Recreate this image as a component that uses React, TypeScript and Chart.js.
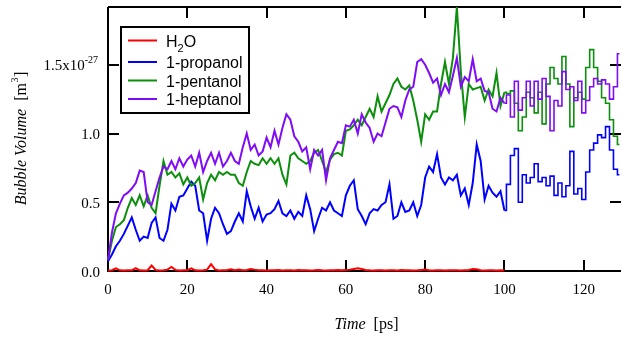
import React, { useEffect, useRef } from "react";
import { Chart, registerables } from "chart.js";

Chart.register(...registerables);

// ---- data (Bubble volume in units of 1e-27 m^3) ----
// early part: one sample per ps, t = 0 .. 100
const EARLY_START = 0;
// late part (coarser, stepped output): one sample per ps, t = 100 .. 129
const LATE_START = 100;

const H2O = [
  0.004, 0.006, 0.02, 0.005, 0.004, 0.006, 0.005, 0.02, 0.005, 0.004,
  0.006, 0.04, 0.008, 0.004, 0.005, 0.01, 0.03, 0.008, 0.004, 0.005,
  0.006, 0.02, 0.005, 0.004, 0.006, 0.01, 0.05, 0.012, 0.004, 0.006,
  0.008, 0.012, 0.005, 0.01, 0.006, 0.008, 0.015, 0.01, 0.006, 0.005,
  0.004, 0.006, 0.005, 0.008, 0.004, 0.006, 0.005, 0.004, 0.007, 0.005,
  0.006, 0.004, 0.005, 0.008, 0.005, 0.004, 0.006, 0.005, 0.007, 0.005,
  0.008, 0.01, 0.015, 0.02, 0.015, 0.008, 0.005, 0.004, 0.006, 0.005,
  0.004, 0.006, 0.005, 0.004, 0.007, 0.005, 0.006, 0.004, 0.005, 0.008,
  0.01, 0.006, 0.004, 0.005, 0.006, 0.004, 0.005, 0.006, 0.005, 0.004,
  0.006, 0.008, 0.015, 0.012, 0.005, 0.004, 0.006, 0.005, 0.004, 0.005,
  0.003,
];

const PROPANOL = [
  0.07, 0.12, 0.18, 0.22, 0.27, 0.33, 0.39, 0.30, 0.22, 0.25,
  0.24, 0.35, 0.39, 0.24, 0.22, 0.30, 0.49, 0.44, 0.54, 0.55,
  0.60, 0.65, 0.62, 0.44, 0.42, 0.22, 0.38, 0.46, 0.42, 0.34,
  0.27, 0.29, 0.36, 0.42, 0.36, 0.58, 0.47, 0.38, 0.46, 0.36,
  0.41, 0.42, 0.45, 0.51, 0.42, 0.40, 0.44, 0.38, 0.43, 0.40,
  0.55, 0.45, 0.29, 0.38, 0.46, 0.44, 0.50, 0.44, 0.42, 0.40,
  0.55, 0.62, 0.66, 0.45, 0.40, 0.34, 0.42, 0.45, 0.44, 0.48,
  0.50, 0.63, 0.38, 0.40, 0.50, 0.43, 0.44, 0.50, 0.40, 0.48,
  0.68, 0.76, 0.72, 0.85, 0.68, 0.63, 0.68, 0.66, 0.70, 0.55,
  0.60, 0.48, 0.64, 0.92, 0.80, 0.52, 0.62, 0.57, 0.54, 0.58,
  0.44,
];

const PENTANOL = [
  0.08, 0.22, 0.32, 0.34, 0.37, 0.46, 0.53, 0.48, 0.55, 0.47,
  0.55, 0.46, 0.42, 0.62, 0.80, 0.70, 0.72, 0.68, 0.71, 0.63,
  0.68, 0.62, 0.64, 0.68, 0.52, 0.64, 0.70, 0.66, 0.72, 0.70,
  0.72, 0.70, 0.70, 0.64, 0.62, 0.72, 0.80, 0.78, 0.77, 0.82,
  0.78, 0.82, 0.78, 0.82, 0.70, 0.63, 0.84, 0.86, 0.82, 0.80,
  0.78, 0.80, 0.86, 0.88, 0.80, 0.72, 0.81, 0.85, 0.86, 0.84,
  1.02, 1.03, 1.06, 1.10, 1.06, 1.12, 1.18, 1.12, 1.27, 1.16,
  1.22, 1.28, 1.36, 1.40, 1.34, 1.32, 1.35, 1.24, 1.10, 0.94,
  1.14, 1.10, 1.16, 1.16, 1.36, 1.52, 1.36, 1.55, 1.92, 1.45,
  1.12, 1.36, 1.32, 1.33, 1.34, 1.24, 1.32, 1.27, 1.44, 1.20,
  1.30,
];

const HEPTANOL = [
  0.08, 0.28, 0.42, 0.49, 0.55, 0.57, 0.60, 0.64, 0.73, 0.72,
  0.50, 0.48, 0.58, 0.68, 0.76, 0.74, 0.80, 0.74, 0.82, 0.76,
  0.81, 0.84, 0.76, 0.86, 0.72, 0.80, 0.86, 0.78, 0.86, 0.76,
  0.80, 0.86, 0.80, 0.78, 0.90, 1.00, 0.88, 0.92, 0.84, 0.87,
  0.97, 0.90, 1.02, 0.92, 1.04, 1.14, 1.10, 0.98, 0.94, 0.87,
  0.90, 0.74, 0.88, 0.84, 0.88, 0.66, 0.82, 0.88, 0.94, 0.93,
  1.06, 1.05, 1.10, 1.00, 1.14, 1.08, 1.04, 0.94, 1.00, 0.98,
  1.08, 1.18, 1.20, 1.19, 1.12, 1.24, 1.32, 1.34, 1.52, 1.54,
  1.50, 1.44, 1.37, 1.40, 1.28, 1.36, 1.30, 1.42, 1.55, 1.34,
  1.41, 1.38, 1.54, 1.38, 1.40, 1.31, 1.30, 1.18, 1.16, 1.26,
  1.22,
];

const PROPANOL_LATE = [
  0.44, 0.63, 0.84, 0.89, 0.50, 0.70, 0.64, 0.68, 0.78, 0.65,
  0.68, 0.62, 0.69, 0.55, 0.64, 0.54, 0.62, 0.87, 0.56, 0.60,
  0.52, 0.72, 0.88, 0.93, 0.99, 0.97, 1.05, 0.88, 0.74, 0.70,
];

const PENTANOL_LATE = [
  1.30, 1.29, 1.31, 1.22, 1.02, 1.12, 1.30, 1.26, 1.15, 1.30,
  1.07, 1.36, 1.48, 1.40, 1.36, 1.56, 1.36, 1.05, 1.26, 1.30,
  1.25, 1.48, 1.61, 1.48, 1.38, 1.26, 1.22, 1.10, 0.98, 0.92,
];

const HEPTANOL_LATE = [
  1.22, 1.28, 1.12, 1.38, 1.17, 1.26, 1.38, 1.20, 1.38, 1.25,
  1.40, 1.27, 1.02, 1.24, 1.20, 1.45, 1.32, 1.34, 1.24, 1.38,
  1.15, 1.24, 1.34, 1.40, 1.36, 1.39, 1.36, 1.25, 1.34, 1.58,
];

const SERIES_NAMES = ["H2O", "1-propanol", "1-pentanol", "1-heptanol"];
const SERIES_COLORS = ["#ff0000", "#0000ff", "#0c8f0c", "#7f0cf5"];

const X_TICKS = [0, 20, 40, 60, 80, 100, 120];
const X_TICK_LABELS = ["0", "20", "40", "60", "80", "100", "120"];
const Y_TICKS = [0, 0.5, 1.0, 1.5];
const Y_TICK_LABELS = ["0.0", "0.5", "1.0", "1.5x10"];
const Y_EXPONENT = "-27";
const X_MIN = 0;
const X_MAX = 129.4;
const Y_MIN = 0;
const Y_MAX = 1.92;

const SERIF = "'Liberation Serif', 'Times New Roman', serif";
const SANS = "'Liberation Sans', Arial, sans-serif";

function toPoints(values: number[], start: number) {
  return values.map((v, i) => ({ x: start + i, y: v }));
}

const framePlugin = {
  id: "igorFrame",
  beforeDatasetsDraw(chart: any) {
    const { ctx, chartArea: a, scales } = chart;
    const x = scales.x;
    const y = scales.y;
    ctx.save();
    ctx.strokeStyle = "#000";
    ctx.lineWidth = 2;
    ctx.beginPath();
    ctx.moveTo(a.left, a.top);
    ctx.lineTo(a.right, a.top);
    ctx.moveTo(a.left, a.top);
    ctx.lineTo(a.left, a.bottom);
    ctx.lineTo(a.right, a.bottom);
    ctx.stroke();
    const TL = 11;
    ctx.beginPath();
    X_TICKS.forEach((v) => {
      const px = Math.round(x.getPixelForValue(v));
      if (px <= a.left + 1) return;
      ctx.moveTo(px, a.bottom);
      ctx.lineTo(px, a.bottom - TL);
      ctx.moveTo(px, a.top);
      ctx.lineTo(px, a.top + TL);
    });
    Y_TICKS.forEach((v) => {
      const py = Math.round(y.getPixelForValue(v));
      if (py >= a.bottom - 1) return;
      ctx.moveTo(a.left, py);
      ctx.lineTo(a.left + TL, py);
      ctx.moveTo(a.right, py);
      ctx.lineTo(a.right - TL, py);
    });
    ctx.stroke();
    ctx.restore();
  },
  afterDraw(chart: any) {
    const { ctx, chartArea: a, scales } = chart;
    const x = scales.x;
    const y = scales.y;
    ctx.save();
    ctx.fillStyle = "#000";
    ctx.textBaseline = "alphabetic";

    // x tick labels
    ctx.font = `15px ${SERIF}`;
    ctx.textAlign = "center";
    X_TICKS.forEach((v, i) => {
      ctx.fillText(X_TICK_LABELS[i], x.getPixelForValue(v), a.bottom + 23);
    });

    // y tick labels
    const labelRight = a.left - 8;
    Y_TICKS.forEach((v, i) => {
      const py = y.getPixelForValue(v);
      const text = Y_TICK_LABELS[i];
      if (i === Y_TICKS.length - 1) {
        ctx.font = `10px ${SERIF}`;
        const ew = ctx.measureText(Y_EXPONENT).width;
        ctx.textAlign = "left";
        const expLeft = labelRight - 2 - ew;
        ctx.fillText(Y_EXPONENT, expLeft, py - 2);
        ctx.font = `15px ${SERIF}`;
        ctx.textAlign = "right";
        ctx.fillText(text, expLeft, py + 5.5);
      } else {
        ctx.font = `15px ${SERIF}`;
        ctx.textAlign = "right";
        ctx.fillText(text, labelRight, py + 5.5);
      }
    });

    // x title
    ctx.textAlign = "left";
    const xt1 = "Time";
    const xt2 = "  [ps]";
    ctx.font = `italic 16px ${SERIF}`;
    const w1 = ctx.measureText(xt1).width;
    ctx.font = `16px ${SERIF}`;
    const w2 = ctx.measureText(xt2).width;
    const cx = (a.left + a.right) / 2 + 2;
    let sx = cx - (w1 + w2) / 2;
    ctx.font = `italic 16px ${SERIF}`;
    ctx.fillText(xt1, sx, 329);
    ctx.font = `16px ${SERIF}`;
    ctx.fillText(xt2, sx + w1, 329);

    // y title (rotated)
    ctx.save();
    ctx.translate(25.5, (a.top + a.bottom) / 2 + 0);
    ctx.rotate(-Math.PI / 2);
    const p1 = "Bubble Volume";
    const p2 = "  [m";
    const p3 = "3";
    const p4 = "]";
    ctx.font = `italic 16px ${SERIF}`;
    const q1 = ctx.measureText(p1).width;
    ctx.font = `16px ${SERIF}`;
    const q2 = ctx.measureText(p2).width;
    const q4 = ctx.measureText(p4).width;
    ctx.font = `10px ${SERIF}`;
    const q3 = ctx.measureText(p3).width;
    let tx = -(q1 + q2 + q3 + q4) / 2;
    ctx.font = `italic 16px ${SERIF}`;
    ctx.fillText(p1, tx, 0);
    tx += q1;
    ctx.font = `16px ${SERIF}`;
    ctx.fillText(p2, tx, 0);
    tx += q2;
    ctx.font = `10px ${SERIF}`;
    ctx.fillText(p3, tx + 0.5, -8);
    tx += q3 + 1;
    ctx.font = `16px ${SERIF}`;
    ctx.fillText(p4, tx, 0);
    ctx.restore();

    // legend
    const bx = 121, by = 27, bw = 128, bh = 86;
    ctx.fillStyle = "#fff";
    ctx.fillRect(bx, by, bw, bh);
    ctx.strokeStyle = "#000";
    ctx.lineWidth = 2;
    ctx.strokeRect(bx, by, bw, bh);
    const rowsY = [40.5, 62, 80.5, 99];
    SERIES_NAMES.forEach((name, i) => {
      const ly = rowsY[i];
      ctx.strokeStyle = SERIES_COLORS[i];
      ctx.lineWidth = 2;
      ctx.beginPath();
      ctx.moveTo(128, ly);
      ctx.lineTo(157, ly);
      ctx.stroke();
      ctx.fillStyle = "#000";
      ctx.textAlign = "left";
      if (name === "H2O") {
        ctx.font = `16px ${SANS}`;
        ctx.fillText("H", 166, ly + 6);
        const hw = ctx.measureText("H").width;
        ctx.font = `11px ${SANS}`;
        ctx.fillText("2", 166 + hw, ly + 11);
        const sw = ctx.measureText("2").width;
        ctx.font = `16px ${SANS}`;
        ctx.fillText("O", 166 + hw + sw, ly + 6);
      } else {
        ctx.font = `16px ${SANS}`;
        ctx.fillText(name, 166, ly + 6);
      }
    });
    ctx.restore();
  },
};

export default function App() {
  const canvasRef = useRef<HTMLCanvasElement | null>(null);

  useEffect(() => {
    const canvas = canvasRef.current;
    if (!canvas) return;
    const early = [H2O, PROPANOL, PENTANOL, HEPTANOL];
    const late = [null, PROPANOL_LATE, PENTANOL_LATE, HEPTANOL_LATE];
    const orders = [3, 2, 1, 0];
    const datasets: any[] = [];
    early.forEach((vals, i) => {
      datasets.push({
        label: SERIES_NAMES[i],
        data: toPoints(vals, EARLY_START),
        borderColor: SERIES_COLORS[i],
        borderWidth: 2,
        pointRadius: 0,
        tension: 0,
        fill: false,
        clip: 3,
        order: orders[i],
      });
      const lv = late[i];
      if (lv) {
        datasets.push({
          label: SERIES_NAMES[i] + " (late)",
          data: toPoints(lv, LATE_START),
          borderColor: SERIES_COLORS[i],
          borderWidth: 1.6,
          pointRadius: 0,
          stepped: "middle",
          fill: false,
          clip: 3,
          order: orders[i],
        });
      }
    });

    const chart = new Chart(canvas, {
      type: "line",
      data: { datasets },
      options: {
        animation: false,
        responsive: false,
        maintainAspectRatio: false,
        devicePixelRatio: 1,
        layout: { padding: { left: 108, top: 7, right: 0, bottom: 69 } },
        plugins: { legend: { display: false }, tooltip: { enabled: false } },
        events: [],
        scales: {
          x: { type: "linear", min: X_MIN, max: X_MAX, display: false },
          y: { type: "linear", min: Y_MIN, max: Y_MAX, display: false },
        },
      },
      plugins: [framePlugin],
    } as any);
    return () => chart.destroy();
  }, []);

  return (
    <div style={{ position: "absolute", left: 0, top: 0, width: 621, height: 340, background: "#fff" }}>
      <canvas ref={canvasRef} width={621} height={340} style={{ display: "block", width: 621, height: 340 }} />
    </div>
  );
}
